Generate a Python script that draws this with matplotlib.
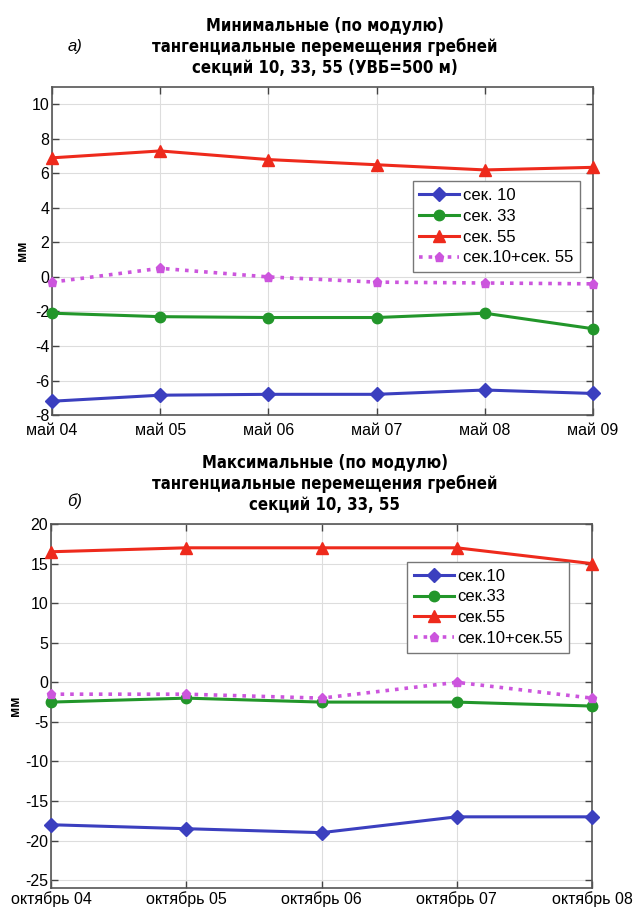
import matplotlib
matplotlib.use("Agg")
import matplotlib.pyplot as plt

plt.rcParams["font.family"] = ["Liberation Sans", "DejaVu Sans"]
plt.rcParams["axes.unicode_minus"] = False

# panel a) minimal tangential displacements
months_a = ["май 04", "май 05", "май 06", "май 07", "май 08", "май 09"]
sec10_a = [-7.2, -6.85, -6.8, -6.8, -6.55, -6.75]
sec33_a = [-2.1, -2.3, -2.35, -2.35, -2.1, -3.0]
sec55_a = [6.9, 7.3, 6.8, 6.5, 6.2, 6.35]
sum_a = [-0.3, 0.5, 0.0, -0.3, -0.35, -0.4]
labels_a = ["сек. 10", "сек. 33", "сек. 55", "сек.10+сек. 55"]

# panel б) maximal tangential displacements
months_b = ["октябрь 04", "октябрь 05", "октябрь 06", "октябрь 07", "октябрь 08"]
sec10_b = [-18.0, -18.5, -19.0, -17.0, -17.0]
sec33_b = [-2.5, -2.0, -2.5, -2.5, -3.0]
sec55_b = [16.5, 17.0, 17.0, 17.0, 15.0]
sum_b = [-1.5, -1.5, -2.0, 0.0, -2.0]
labels_b = ["сек.10", "сек.33", "сек.55", "сек.10+сек.55"]

BLUE, GREEN, RED, MAG = "#3b3fbf", "#22962a", "#ee2a1c", "#cc55dd"


def panel(ax, months, series, labels, ylim, yticks, legend_box, xpad):
    x = list(range(len(months)))
    styles = [(BLUE, "D", "-", 7), (GREEN, "o", "-", 7.5), (RED, "^", "-", 8.5), (MAG, "p", ":", 6.5)]
    for ys, lab, (c, m, ls, ms) in zip(series, labels, styles):
        ax.plot(x, ys, color=c, marker=m, ls=ls, lw=2.2 if ls == "-" else 2.6,
                ms=ms, mfc=c, mec=c, label=lab, clip_on=False, zorder=3)
    ax.set_xlim(0, len(months) - 1)
    ax.set_ylim(*ylim)
    ax.set_yticks(yticks)
    ax.set_xticks(x)
    ax.set_xticklabels(months)
    ax.grid(True, color="#dddddd", lw=0.8)
    ax.tick_params(direction="in", top=True, right=True, labelsize=11.5, length=5,
                   width=1, color="#444444", pad=2)
    ax.tick_params(axis="x", pad=xpad)
    for s in ax.spines.values():
        s.set_color("#555555")
        s.set_linewidth(1.2)
    ax.set_ylabel("мм", fontsize=10, fontweight="bold", labelpad=2)
    leg = ax.legend(loc="upper left", bbox_to_anchor=legend_box, borderaxespad=0,
                    fontsize=12, handlelength=2.4, handletextpad=0.2, labelspacing=0.35,
                    borderpad=0.4, fancybox=False, framealpha=1, edgecolor="#777777")
    leg.get_frame().set_linewidth(1.0)


fig = plt.figure(figsize=(6.33, 9.07), dpi=100)

ax1 = fig.add_axes([0.0821, 0.5424, 0.8547, 0.3616])
panel(ax1, months_a, [sec10_a, sec33_a, sec55_a, sum_a], labels_a,
      (-8, 11), range(-8, 11, 2), (0.667, 0.713), 5.5)
ax2 = fig.add_axes([0.0806, 0.0209, 0.8547, 0.4013])
panel(ax2, months_b, [sec10_b, sec33_b, sec55_b, sum_b], labels_b,
      (-26, 20), range(-25, 21, 5), (0.658, 0.896), 2)

title_kw = dict(va="top", ha="center", fontsize=12, fontweight="bold",
                family=["DejaVu Sans"], fontstretch="condensed", linespacing=1.22)
fig.text(0.513, 1 - 17 / 907, "Минимальные (по модулю)\nтангенциальные перемещения гребней\n"
         "секций 10, 33, 55 (УВБ=500 м)", **title_kw)
fig.text(0.513, 1 - 454 / 907, "Максимальные (по модулю)\nтангенциальные перемещения гребней\n"
         "секций 10, 33, 55", **title_kw)
fig.text(75 / 633, 1 - 46 / 907, "а)", fontsize=12, style="italic", ha="center", va="center")
fig.text(75 / 633, 1 - 501 / 907, "б)", fontsize=12, style="italic", ha="center", va="center")

fig.savefig("out.png", dpi=100)
